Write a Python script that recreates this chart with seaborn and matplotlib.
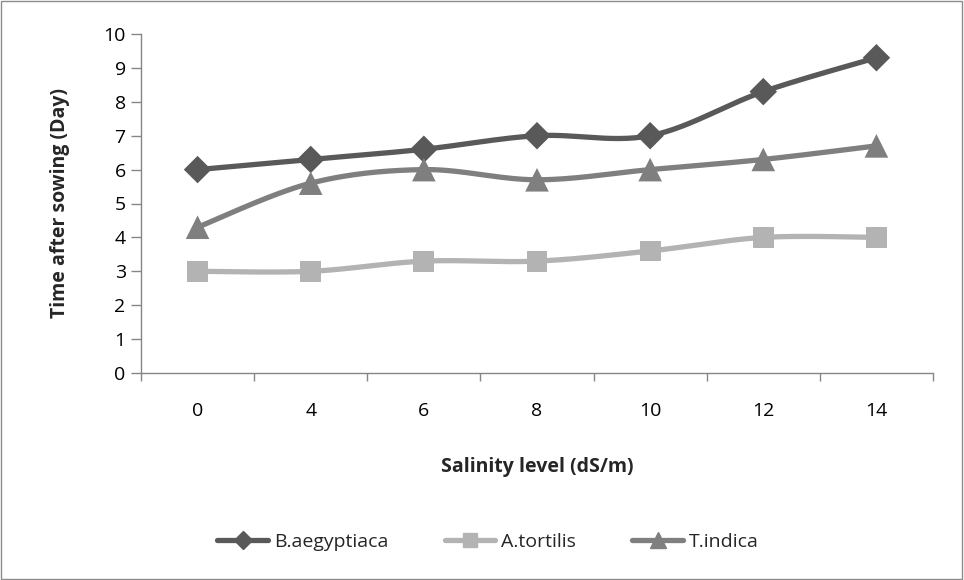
import matplotlib
matplotlib.use("Agg")
import matplotlib.pyplot as plt
from matplotlib.lines import Line2D
from matplotlib.patches import Rectangle
import numpy as np
import pandas as pd
import seaborn as sns

# data
salinity = ["0", "4", "6", "8", "10", "12", "14"]
b_aegyptiaca = [6.0, 6.3, 6.6, 7.0, 7.0, 8.3, 9.3]
a_tortilis = [3.0, 3.0, 3.3, 3.3, 3.6, 4.0, 4.0]
t_indica = [4.3, 5.6, 6.0, 5.7, 6.0, 6.3, 6.7]
species = ["B.aegyptiaca", "A.tortilis", "T.indica"]

colors = {"B.aegyptiaca": "#595959", "A.tortilis": "#b3b3b3", "T.indica": "#7f7f7f"}
markers = {"B.aegyptiaca": "D", "A.tortilis": "s", "T.indica": "^"}
msizes = {"B.aegyptiaca": 14, "A.tortilis": 15, "T.indica": 17}


def smooth(xs, ys, n=30):
    # excel-style smoothed line (bezier through the points)
    pts = np.column_stack([xs, ys]).astype(float)
    p = np.vstack([pts[0], pts, pts[-1]])
    out = []
    t = np.linspace(0, 1, n)[:, None]
    for i in range(1, len(p) - 2):
        p0 = p[i]
        p3 = p[i + 1]
        c1 = p0 + (p[i + 1] - p[i - 1]) / 6.0
        c2 = p3 - (p[i + 2] - p[i]) / 6.0
        seg = ((1 - t) ** 3) * p0 + 3 * ((1 - t) ** 2) * t * c1 + 3 * (1 - t) * t ** 2 * c2 + t ** 3 * p3
        out.append(seg if i == 1 else seg[1:])
    out = np.vstack(out)
    return out[:, 0], out[:, 1]


sns.set_style("white")
plt.rcParams["font.family"] = ["Open Sans", "DejaVu Sans"]

df = pd.DataFrame({
    "x": list(range(len(salinity))) * 3,
    "y": b_aegyptiaca + a_tortilis + t_indica,
    "species": [s for s in species for _ in salinity],
})

fig = plt.figure(figsize=(9.64, 5.8), dpi=100)
ax = fig.add_axes([141 / 964, 1 - 373 / 580, 792 / 964, 339 / 580])

for name in species:
    sub = df[df["species"] == name]
    sx, sy = smooth(sub["x"].values, sub["y"].values)
    sns.lineplot(x=sx, y=sy, ax=ax, color=colors[name], linewidth=3.8, sort=False,
                 estimator=None, legend=False, zorder=2)
    sns.scatterplot(x=sub["x"], y=sub["y"], ax=ax, color=colors[name], marker=markers[name],
                    s=msizes[name] ** 2, edgecolor="none", legend=False, zorder=3)

ax.set_xlim(-0.5, len(salinity) - 0.5)
ax.set_ylim(0, 10)
ax.set_yticks(range(0, 11))
ax.set_yticklabels([str(i) for i in range(0, 11)], fontsize=14)
ax.set_xticks(np.arange(-0.5, len(salinity), 1.0))
ax.set_xticklabels([])
ax.set_xticks(range(len(salinity)), minor=True)
ax.set_xticklabels(salinity, minor=True, fontsize=14)
ax.tick_params(axis="x", which="major", length=6, width=1, color="#868686", direction="out")
ax.tick_params(axis="x", which="minor", length=0, pad=21)
ax.tick_params(axis="y", length=7, width=1, color="#868686", direction="out", pad=4)
ax.tick_params(axis="both", which="both", bottom=True, left=True, labelcolor="black")

for side in ["top", "right"]:
    ax.spines[side].set_visible(False)
for side in ["left", "bottom"]:
    ax.spines[side].set_color("#868686")
    ax.spines[side].set_linewidth(1)

ax.set_xlabel("")
ax.set_ylabel("")
fig.text(537 / 964, 1 - 467 / 580, "Salinity level (dS/m)", ha="center", va="center",
         fontsize=14, fontweight="bold")
fig.text(60 / 964, 1 - 203 / 580, "Time after sowing (Day)", ha="center", va="center",
         rotation=90, fontsize=14, fontweight="bold")

handles = [Line2D([0], [0], color=colors[n], marker=markers[n], linewidth=3.8,
                  markersize=msizes[n] * 0.65) for n in species]
fig.legend(handles, species, loc="center", bbox_to_anchor=(488 / 964, 1 - 542 / 580),
           ncol=3, frameon=False, fontsize=14, handlelength=2.6, columnspacing=2.9,
           handletextpad=0.3)

fig.patches.append(Rectangle((0.001, 0.002), 0.997, 0.996, transform=fig.transFigure,
                             fill=False, edgecolor="#8c8c8c", linewidth=1))

fig.savefig("out.png", dpi=100)
